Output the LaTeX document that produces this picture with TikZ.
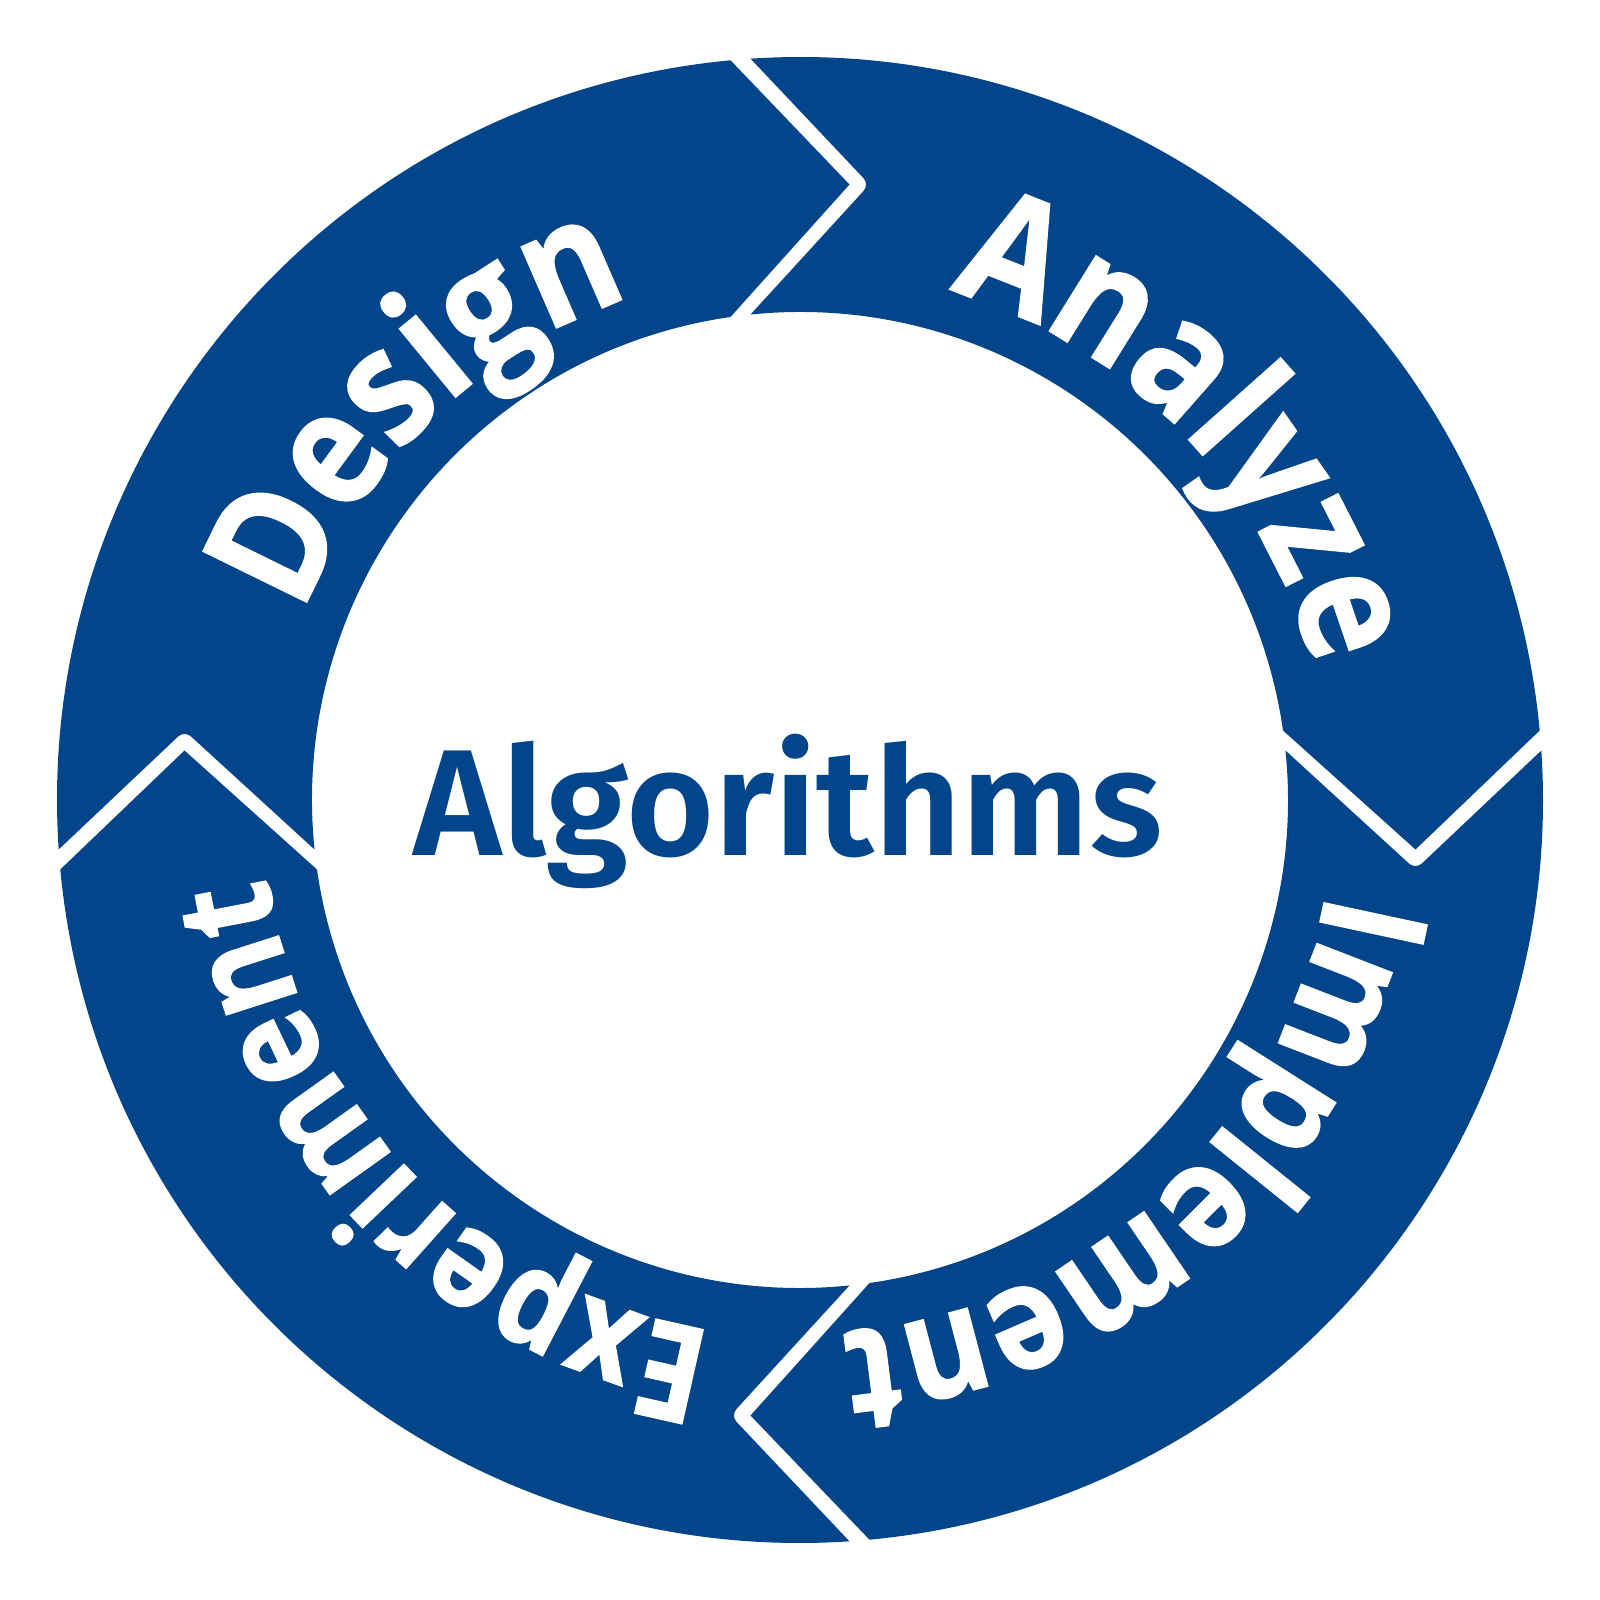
\documentclass[tikz,border=0pt]{standalone}
\usepackage{fontspec}
\usetikzlibrary{decorations.text}
\newfontfamily\ringfont{Open Sans}[FakeStretch=0.87, FakeBold=1]
\IfFontExistsTF{Fira Sans SemiBold}
  {\newfontfamily\algfont{Fira Sans SemiBold}}
  {\newfontfamily\algfont{Fira Sans}[FakeBold=1.5]}
\definecolor{ringblue}{RGB}{3,69,138}
\newcommand\ringtxt[1]{\ringfont\bfseries\fontsize{#1}{#1}\selectfont}

\begin{document}
\begin{tikzpicture}
  \useasboundingbox (-8,-8) rectangle (8,8);
  % ring sizes: outer, inner, middle radius, gap edges, chevron depth
  \def\ro{7.43} \def\ri{4.88} \def\mr{6.155}
  \def\gn{0.495} \def\gf{0.695} \def\ch{1.19}
  \foreach \rot in {0,-90,-180,-270}
    \fill[ringblue, rotate=\rot]
      ({180+asin(\gn/\ro)}:\ro) [rounded corners=2.5pt]-- (-\mr,{\ch-\gn}) [sharp corners]-- ({180+asin(\gn/\ri)}:\ri)
      arc[start angle={180+asin(\gn/\ri)}, end angle={90+asin(\gf/\ri)}, radius=\ri]
      -- ({\ch-\gf},\mr)
      -- ({90+asin(\gf/\ro)}:\ro)
      arc[start angle={90+asin(\gf/\ro)}, end angle={180+asin(\gn/\ro)}, radius=\ro]
      -- cycle;
  % words along the ring
  \path[decorate, decoration={text along path, text align=center, text color=white,
      text={|\ringtxt{46}|Design}}] (174:5.3) arc[start angle=174, end angle=94, radius=5.3];
  \path[decorate, decoration={text along path, text align=center, text color=white,
      text={|\ringtxt{46}|Analyze}}] (84:5.3) arc[start angle=84, end angle=4, radius=5.3];
  \path[decorate, decoration={text along path, text align=center, text color=white,
      text={|\ringtxt{42}|Implement}}] (-7.8:5.34) arc[start angle=-7.8, end angle=-87.8, radius=5.34];
  \path[decorate, decoration={text along path, text align=center, text color=white,
      text={|\ringtxt{38.5}|Experiment}}] (264.5:5.38) arc[start angle=264.5, end angle=184.5, radius=5.38];
  \node[text=ringblue, font=\algfont\fontsize{43}{46}\selectfont, anchor=base] (alg) at (-0.12,-0.56) {Algorithms};
\end{tikzpicture}
\end{document}
